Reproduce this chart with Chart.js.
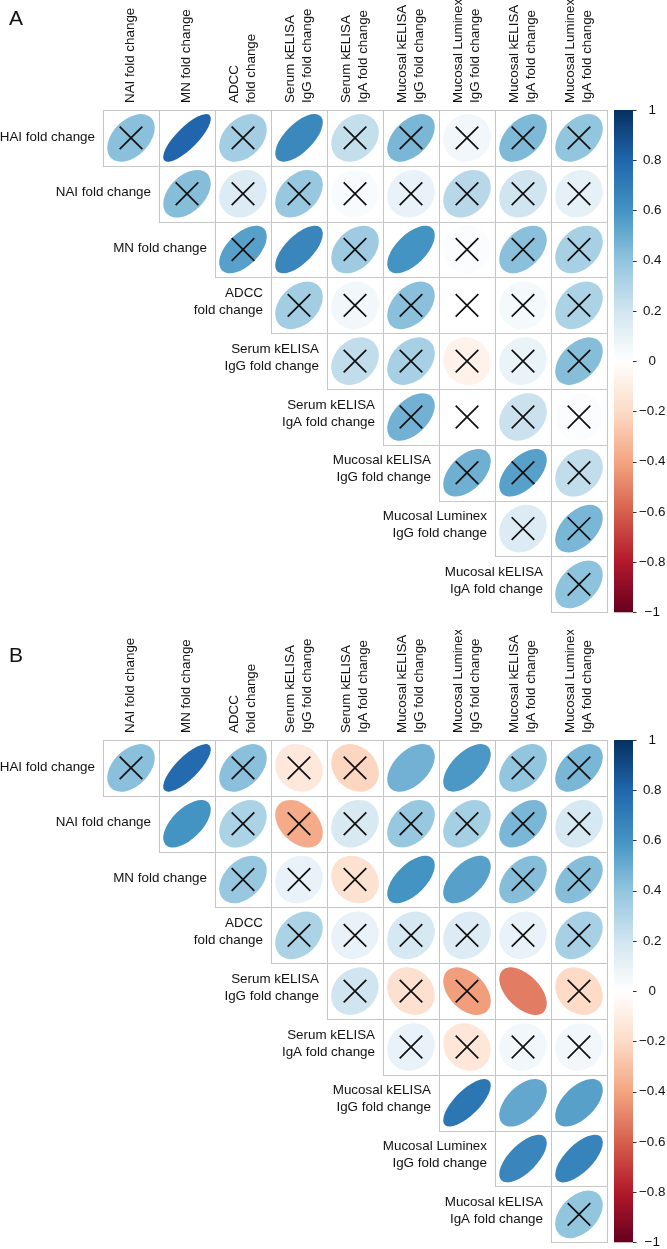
<!DOCTYPE html>
<html>
<head>
<meta charset="utf-8">
<script src="https://cdn.jsdelivr.net/npm/chart.js@4.4.1/dist/chart.umd.min.js"></script>
<style>
  html, body { margin: 0; padding: 0; background: #fff; }
  #page { position: relative; width: 667px; height: 1249px; overflow: hidden; }
  canvas { position: absolute; left: 0; }
</style>
</head>
<body>
<div id="page">
  <canvas id="chartA" width="667" height="630" style="top:0"></canvas>
  <canvas id="chartB" width="667" height="630" style="top:630px"></canvas>
</div>
<script>
const FONT = '"Liberation Sans", Arial, Helvetica, sans-serif';

const rowLabels = [
    ['HAI fold change'], ['NAI fold change'], ['MN fold change'],
    ['ADCC', 'fold change'], ['Serum kELISA', 'IgG fold change'], ['Serum kELISA', 'IgA fold change'],
    ['Mucosal kELISA', 'IgG fold change'], ['Mucosal Luminex', 'IgG fold change'], ['Mucosal kELISA', 'IgA fold change']
];
const colLabels = [
    ['NAI fold change'], ['MN fold change'], ['ADCC', 'fold change'],
    ['Serum kELISA', 'IgG fold change'], ['Serum kELISA', 'IgA fold change'], ['Mucosal kELISA', 'IgG fold change'],
    ['Mucosal Luminex', 'IgG fold change'], ['Mucosal kELISA', 'IgA fold change'], ['Mucosal Luminex', 'IgA fold change']
];
const cbTickLabels = ['1', '0.8', '0.6', '0.4', '0.2', '0', '\u22120.2', '\u22120.4', '\u22120.6', '\u22120.8', '\u22121'];

// upper triangle, row i starts at column i
const corrA = [
    [0.42, 0.80, 0.35, 0.65, 0.24, 0.46, 0.06, 0.45, 0.40],
    [0.43, 0.15, 0.38, 0.03, 0.10, 0.28, 0.20, 0.11],
    [0.55, 0.66, 0.36, 0.60, 0.02, 0.42, 0.33],
    [0.35, 0.06, 0.42, 0.00, 0.05, 0.32],
    [0.25, 0.33, -0.07, 0.09, 0.43],
    [0.48, 0.00, 0.22, 0.02],
    [0.49, 0.55, 0.25],
    [0.15, 0.46],
    [0.41]
];
// 1 = not significant (crossed out)
const crossA = [
    [1, 0, 1, 0, 1, 1, 1, 1, 1],
    [1, 1, 1, 1, 1, 1, 1, 1],
    [1, 0, 1, 0, 1, 1, 1],
    [1, 1, 1, 1, 1, 1],
    [1, 1, 1, 1, 1],
    [1, 1, 1, 1],
    [1, 1, 1],
    [1, 1],
    [1]
];
const corrB = [
    [0.42, 0.78, 0.42, -0.13, -0.22, 0.48, 0.58, 0.40, 0.46],
    [0.60, 0.32, -0.38, 0.17, 0.38, 0.34, 0.46, 0.18],
    [0.38, 0.10, -0.16, 0.60, 0.55, 0.43, 0.43],
    [0.32, 0.10, 0.18, 0.15, 0.10, 0.33],
    [0.20, -0.17, -0.42, -0.52, -0.20],
    [0.10, -0.14, 0.06, 0.06],
    [0.73, 0.52, 0.55],
    [0.66, 0.67],
    [0.40]
];
const crossB = [
    [1, 0, 1, 1, 1, 0, 0, 1, 1],
    [0, 1, 1, 1, 1, 1, 1, 1],
    [1, 1, 1, 0, 0, 1, 1],
    [1, 1, 1, 1, 1, 1],
    [1, 1, 1, 0, 1],
    [1, 1, 1, 1],
    [0, 0, 0],
    [0, 0],
    [1]
];

// corrplot RdBu palette, -1 .. 1
const palette = ['#67001F', '#B2182B', '#D6604D', '#F4A582', '#FDDBC7', '#FFFFFF',
    '#D1E5F0', '#92C5DE', '#4393C3', '#2166AC', '#053061'];

function hexToRgb(h) {
    const n = parseInt(h.slice(1), 16);
    return [(n >> 16) & 255, (n >> 8) & 255, n & 255];
}

function corrColor(r) {
    const t = (r + 1) / 2 * (palette.length - 1);
    const i = Math.min(Math.floor(t), palette.length - 2);
    const f = t - i;
    const a = hexToRgb(palette[i]), b = hexToRgb(palette[i + 1]);
    const c = a.map((v, k) => Math.round(v + (b[k] - v) * f));
    return `rgb(${c[0]},${c[1]},${c[2]})`;
}

function cellPoints(corr, cross, onlyCrossed) {
    const pts = [];
    corr.forEach((row, i) => row.forEach((v, k) => {
        if (!onlyCrossed || cross[i][k]) pts.push({ x: i + k + 1, y: i + 1, v: v });
    }));
    return pts;
}

const corrplotPlugin = {
    id: 'corrplot',
    beforeDatasetsDraw(chart) {
        const { ctx, scales: { x, y } } = chart;
        const s = x.getPixelForValue(2) - x.getPixelForValue(1);
        const meta = chart.getDatasetMeta(0);
        const pts = chart.data.datasets[0].data;
        ctx.save();
        // cell borders, shared edges so they do not double up
        ctx.strokeStyle = '#c6c6c6';
        ctx.lineWidth = 1;
        pts.forEach(p => {
            const l = Math.round(x.getPixelForValue(p.x - 0.5));
            const r = Math.round(x.getPixelForValue(p.x + 0.5));
            const t = Math.round(y.getPixelForValue(p.y - 0.5));
            const b = Math.round(y.getPixelForValue(p.y + 0.5));
            ctx.strokeRect(l + 0.5, t + 0.5, r - l, b - t);
        });
        // ellipse of the 2x2 correlation matrix, like corrplot
        meta.data.forEach((el, n) => {
            const v = pts[n].v;
            const a = 0.425 * s * Math.sqrt(1 + v);
            const b = 0.425 * s * Math.sqrt(1 - v);
            ctx.beginPath();
            ctx.ellipse(el.x, el.y, Math.max(a, 0.5), Math.max(b, 0.5), -Math.PI / 4, 0, 2 * Math.PI);
            ctx.fillStyle = corrColor(v);
            ctx.fill();
        });
        ctx.restore();
    },
    afterDraw(chart, args, opts) {
        const { ctx, chartArea, scales: { x, y, cb } } = chart;
        const s = x.getPixelForValue(2) - x.getPixelForValue(1);
        ctx.save();

        // colour legend
        const top = cb.getPixelForValue(1), bot = cb.getPixelForValue(-1);
        const x0 = chartArea.right + 7, w = 19;
        const grad = ctx.createLinearGradient(0, bot, 0, top);
        palette.forEach((c, i) => grad.addColorStop(i / (palette.length - 1), c));
        ctx.fillStyle = grad;
        ctx.fillRect(x0, top, w, bot - top);
        ctx.strokeStyle = '#333';
        ctx.lineWidth = 1;
        cb.ticks.forEach(t => {
            const py = Math.round(cb.getPixelForValue(t.value)) + 0.5;
            ctx.beginPath();
            ctx.moveTo(x0 + w, py);
            ctx.lineTo(x0 + w + 3.5, py);
            ctx.stroke();
        });

        ctx.fillStyle = '#111';
        ctx.font = `13.4px ${FONT}`;

        // row labels, right aligned before the first cell of each row
        ctx.textAlign = 'right';
        ctx.textBaseline = 'middle';
        rowLabels.forEach((lines, i) => {
            const tx = x.getPixelForValue(i + 1) - s / 2 - 8;
            const cy = y.getPixelForValue(i + 1) - 1 - (lines.length - 1) * 2.5;
            lines.forEach((ln, k) => ctx.fillText(ln, tx, cy + (k - (lines.length - 1) / 2) * 17));
        });

        // column labels, rotated
        colLabels.forEach((lines, j) => {
            const px = x.getPixelForValue(j + 1) - 0.5;
            lines.forEach((ln, k) => {
                ctx.save();
                ctx.translate(px + (k - (lines.length - 1) / 2) * 17, chartArea.top - 7);
                ctx.rotate(-Math.PI / 2);
                ctx.textAlign = 'left';
                ctx.textBaseline = 'middle';
                ctx.fillText(ln, 0, 0);
                ctx.restore();
            });
        });

        // panel letter
        ctx.font = `21px ${FONT}`;
        ctx.textAlign = 'left';
        ctx.textBaseline = 'alphabetic';
        ctx.fillText(opts.letter, 9, opts.letterY);
        ctx.restore();
    }
};

function makePanel(id, letter, letterY, corr, cross) {
    return new Chart(document.getElementById(id), {
        type: 'scatter',
        data: {
            datasets: [
                { data: cellPoints(corr, cross, false), pointRadius: 0, pointHoverRadius: 0 },
                {
                    data: cellPoints(corr, cross, true),
                    pointStyle: 'crossRot',
                    pointRadius: 16,
                    pointHoverRadius: 16,
                    borderColor: '#111',
                    borderWidth: 1.7,
                    backgroundColor: 'rgba(0,0,0,0)'
                }
            ]
        },
        options: {
            responsive: false,
            animation: false,
            devicePixelRatio: 1,
            events: [],
            layout: { padding: { left: 103, top: 110, right: 2, bottom: 17 } },
            plugins: {
                legend: { display: false },
                tooltip: { enabled: false },
                corrplot: { letter: letter, letterY: letterY }
            },
            scales: {
                x: { type: 'linear', min: 0.5, max: 9.5, display: false },
                y: { type: 'linear', min: 0.5, max: 9.5, reverse: true, display: false },
                cb: {
                    type: 'linear',
                    position: 'right',
                    min: -1,
                    max: 1,
                    grid: { display: false, drawTicks: true, tickLength: 32 },
                    border: { display: false },
                    ticks: {
                        stepSize: 0.2,
                        autoSkip: false,
                        padding: 0,
                        crossAlign: 'center',
                        color: '#111',
                        font: { family: FONT, size: 13.4 },
                        callback: v => cbTickLabels[Math.round((1 - v) * 5)]
                    },
                    afterFit: scale => { scale.width = 58; }
                }
            }
        },
        plugins: [corrplotPlugin]
    });
}

makePanel('chartA', 'A', 25, corrA, crossA);
makePanel('chartB', 'B', 32, corrB, crossB);
</script>
</body>
</html>
